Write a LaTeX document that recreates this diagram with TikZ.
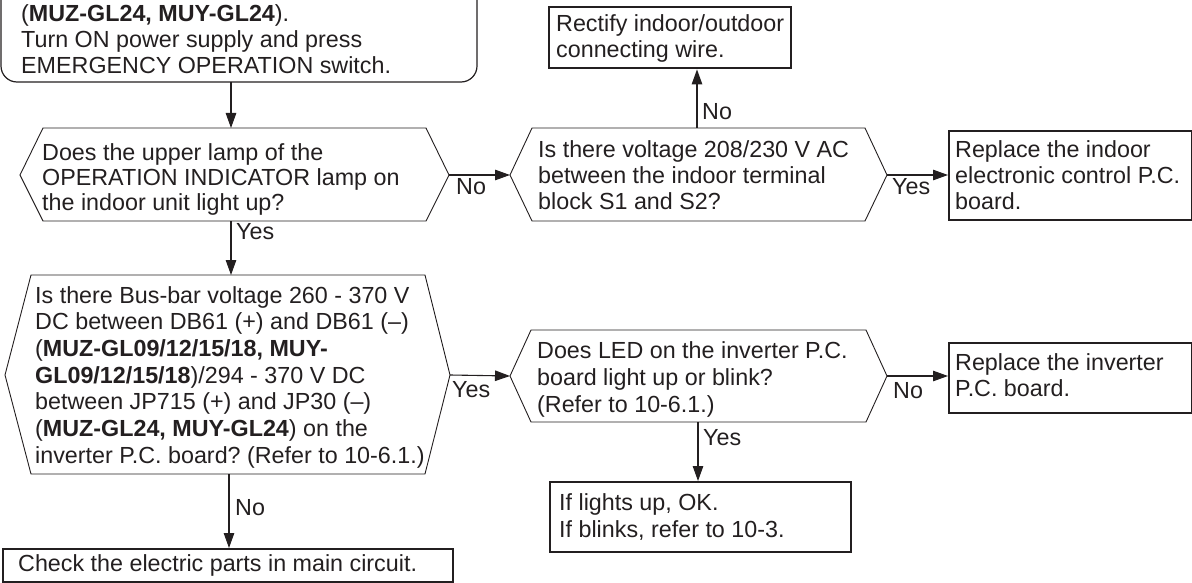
\documentclass[tikz,border=0pt]{standalone}
\usepackage{fontspec}
\setmainfont{Liberation Sans}
\usetikzlibrary{arrows.meta}
\definecolor{ink}{RGB}{35,31,32}
\newcommand\mainfs{\fontsize{23.3}{26}\selectfont}
\newcommand\firstl{\rule{0pt}{18pt}}
\frenchspacing
\tikzset{
  conn/.style={draw=ink, line width=1.1pt, -{Triangle[length=15pt,width=10.5pt]}},
  hexline/.style={draw=ink, line width=0.9pt, line join=miter},
  thickbox/.style={draw=ink, line width=2.4pt, inner sep=0pt, anchor=north west},
  txt/.style={anchor=north west, inner sep=0pt, align=left, text=ink, font=\mainfs},
  lbl/.style={anchor=base west, inner sep=0pt, text=ink, font=\mainfs},
}
\begin{document}
\begin{tikzpicture}[x=1pt,y=-1pt]
\useasboundingbox (0,0) rectangle (1192,583);

% ---------- top rounded box ----------
\draw[draw=ink, line width=1.2pt, rounded corners=16pt] (1,-40) rectangle (477,82);
\node[txt] (ttop) at (21,21-18) {\firstl(\textbf{MUZ-GL24, MUY-GL24}).\\Turn ON power supply and press\\EMERGENCY OPERATION switch.};
\coordinate (topS) at (231,82);

% ---------- hexagon 1 ----------
\coordinate (h1W) at (20,175); \coordinate (h1E) at (449,175);
\coordinate (h1N) at (231,128); \coordinate (h1S) at (231,221);
\draw[hexline] (h1W) -- (43,128) -- (426,128) -- (h1E) -- (426,221) -- (43,221) -- cycle;
\node[txt, font=\fontsize{23.3}{25}\selectfont] (t1) at (42,160-18) {\firstl Does the upper lamp of the\\OPERATION INDICATOR lamp on\\the indoor unit light up?};

% ---------- hexagon 2 ----------
\coordinate (h2W) at (510,175); \coordinate (h2E) at (887,175);
\coordinate (h2N) at (697,128);
\draw[hexline] (h2W) -- (532,128) -- (865,128) -- (h2E) -- (865,221) -- (532,221) -- cycle;
\node[txt] (t2) at (538,157-18) {\firstl Is there voltage 208/230 V AC\\between the indoor terminal\\block S1 and S2?};

% ---------- hexagon 3 ----------
\coordinate (h3W) at (5,375); \coordinate (h3E) at (450,375);
\coordinate (h3N) at (231,275); \coordinate (h3S) at (229,474);
\draw[hexline] (h3W) -- (31,275) -- (425,275) -- (h3E) -- (425,474) -- (31,474) -- cycle;
\node[txt, font=\fontsize{23.3}{26.67}\selectfont] (t3) at (35,303-18) {\firstl Is there Bus-bar voltage 260 - 370 V\\DC between DB61 (+) and DB61 (--)\\(\textbf{MUZ-GL09/12/15/18, MUY-}\\\textbf{GL09/12/15/18})/294 - 370 V DC\\between JP715 (+) and JP30 (--)\\(\textbf{MUZ-GL24, MUY-GL24}) on the\\inverter P.C. board? (Refer to 10-6.1.)};

% ---------- hexagon 4 ----------
\coordinate (h4W) at (510,376); \coordinate (h4E) at (887,376);
\coordinate (h4S) at (698,422);
\draw[hexline] (h4W) -- (531,330) -- (866,330) -- (h4E) -- (866,422) -- (531,422) -- cycle;
\node[txt, font=\fontsize{23.3}{27}\selectfont] (t4) at (537,358-18) {\firstl Does LED on the inverter P.C.\\board light up or blink?\\(Refer to 10-6.1.)};

% ---------- rectangular result boxes ----------
\node[thickbox, minimum width=242pt, minimum height=61pt] (rect) at (548,6) {};
\node[txt] (trect) at (556,31-18) {\firstl Rectify indoor/outdoor\\connecting wire.};

\node[thickbox, minimum width=242.5pt, minimum height=89pt] (rep1) at (948,130) {};
\node[txt] (trep1) at (955,157-18) {\firstl Replace the indoor\\electronic control P.C.\\board.};

\node[thickbox, minimum width=242.5pt, minimum height=70pt] (rep2) at (948,342) {};
\node[txt] (trep2) at (955,370-18) {\firstl Replace the inverter\\P.C. board.};

\node[thickbox, minimum width=301pt, minimum height=70pt] (ok) at (549,481) {};
\node[txt, font=\fontsize{23.3}{27}\selectfont] (tok) at (559,510-18) {\firstl If lights up, OK.\\If blinks, refer to 10-3.};

\node[thickbox, minimum width=450.5pt, minimum height=33pt] (chk) at (1.5,548) {};
\node[txt] (tchk) at (18,571-18) {\firstl Check the electric parts in main circuit.};

% ---------- connectors ----------
\draw[conn] (topS) -- (h1N);
\draw[conn] (h1E) -- (h2W);
\node[lbl] (lno1) at (456,195) {No};
\draw[conn] (h2N) -- (rect.south -| h2N);
\node[lbl] (lno2) at (702,120) {No};
\draw[conn] (h2E) -- (rep1.west |- h2E);
\node[lbl] (lyes1) at (892,195) {Yes};
\draw[conn] (h1S) -- (h3N);
\node[lbl] (lyes2) at (236,240) {Yes};
\draw[conn] (h3E) -- (h4W);
\node[lbl] (lyes3) at (452,397) {Yes};
\draw[conn] (h4E) -- (rep2.west |- h4E);
\node[lbl] (lno3) at (893,398) {No};
\draw[conn] (h4S) -- (ok.north -| h4S);
\node[lbl] (lyes4) at (703,445) {Yes};
\draw[conn] (h3S) -- (chk.north -| h3S);
\node[lbl] (lno4) at (235,515) {No};
\end{tikzpicture}
\end{document}
